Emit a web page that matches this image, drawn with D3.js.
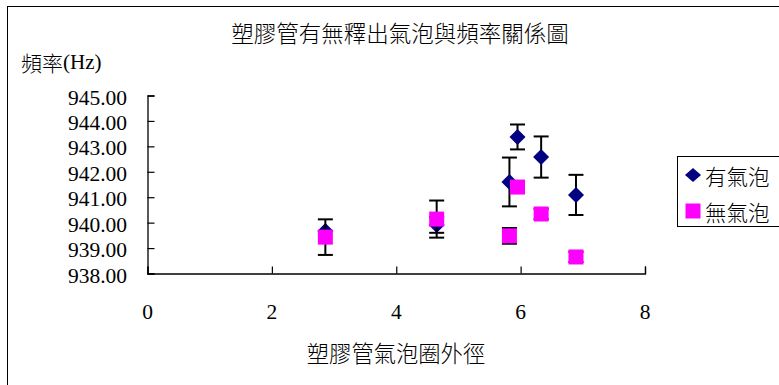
<!DOCTYPE html>
<html><head><meta charset="utf-8">
<script src="https://cdn.jsdelivr.net/npm/d3@7"></script>
<style>
html,body{margin:0;padding:0;background:#fff;}
</style></head>
<body><svg id="c" width="779" height="385"></svg>
<script>
const chartTitle = "塑膠管有無釋出氣泡與頻率關係圖";
const xTitle = "塑膠管氣泡圈外徑";
const yTitleCjk = "頻率";
const yTitleUnit = "(Hz)";
const seriesNames = ["有氣泡", "無氣泡"];
const xValues = [2.86, 4.65, 5.82, 5.95, 6.33, 6.89];
const withBubble = [939.67, 939.91, 941.60, 943.37, 942.58, 941.09];
const withBubbleErr = [0, 0.31, 0.96, 0.49, 0.81, 0.79];
const noBubble = [939.43, 940.14, 939.48, 941.40, 940.34, 938.65];
const noBubbleErr = [0.7, 0.73, 0.31, 0.2, 0.2, 0.2];
const xTicks = [0, 2, 4, 6, 8];
const yTicks = [938, 939, 940, 941, 942, 943, 944, 945];

const CJK = "'Noto Sans CJK TC', sans-serif";
const LATIN = "'Liberation Serif', serif";
const svg = d3.select("#c");
const x = d3.scaleLinear().domain([0, 8]).range([147.5, 645]);
const y = d3.scaleLinear().domain([938, 945]).range([273.5, 95.5]);

function cjk(sel) { return sel.style("font-family", CJK).style("font-weight", "300").attr("fill", "#000"); }
function lat(sel) { return sel.style("font-family", LATIN).style("font-weight", "400").attr("fill", "#000"); }

// outer border
svg.append("rect").attr("x", 7.5).attr("y", 6.5).attr("width", 800).attr("height", 400)
  .attr("fill", "none").attr("stroke", "#000").attr("stroke-width", 1);

cjk(svg.append("text")).attr("x", 400).attr("y", 32).attr("text-anchor", "middle")
  .attr("dominant-baseline", "central").style("font-size", "22.5px").text(chartTitle);
const yt = svg.append("text").attr("x", 21).attr("y", 62).attr("dominant-baseline", "central")
  .style("font-size", "21px").attr("fill", "#000");
cjk(yt.append("tspan")).text(yTitleCjk);
lat(yt.append("tspan")).text(yTitleUnit);
cjk(svg.append("text")).attr("x", 396).attr("y", 352).attr("text-anchor", "middle")
  .attr("dominant-baseline", "central").style("font-size", "22.3px").text(xTitle);

// axes
const yAxis = d3.axisRight(y).tickValues(yTicks).tickSize(7).tickFormat("");
const yg = svg.append("g").attr("transform", "translate(147.5,0)").call(yAxis);
const xAxis = d3.axisTop(x).tickValues(xTicks).tickSize(7).tickFormat("");
const xg = svg.append("g").attr("transform", "translate(0,273.5)").call(xAxis);
[yg, xg].forEach(g => {
  g.select(".domain").attr("stroke", "#000").attr("stroke-width", 1.3);
  g.selectAll(".tick line").attr("stroke", "#000").attr("stroke-width", 1.2);
});

lat(svg.append("g").selectAll("text").data(yTicks).join("text"))
  .attr("x", 127).attr("y", d => y(d) + 2).attr("text-anchor", "end")
  .attr("dominant-baseline", "central").style("font-size", "21.5px")
  .text(d3.format(".2f"));
lat(svg.append("g").selectAll("text").data(xTicks).join("text"))
  .attr("x", d => x(d)).attr("y", 312).attr("text-anchor", "middle")
  .attr("dominant-baseline", "central").style("font-size", "21.5px")
  .text(d => d);

function errBars(vals, errs) {
  const g = svg.append("g").attr("stroke", "#000").attr("stroke-width", 2);
  vals.forEach((v, i) => {
    const e = errs[i];
    if (!e) return;
    const cx = x(xValues[i]);
    g.append("line").attr("x1", cx).attr("x2", cx).attr("y1", y(v - e)).attr("y2", y(v + e));
    [v - e, v + e].forEach(t => {
      g.append("line").attr("x1", cx - 7.5).attr("x2", cx + 7.5).attr("y1", y(t)).attr("y2", y(t));
    });
  });
}
const diamond = "M0,-8L8,0L0,8L-8,0Z";
const square = "M-7.5,-7.5H7.5V7.5H-7.5Z";

errBars(withBubble, withBubbleErr);
svg.append("g").selectAll("path").data(withBubble).join("path")
  .attr("d", diamond).attr("fill", "#000080")
  .attr("transform", (d, i) => `translate(${x(xValues[i])},${y(d)})`);
errBars(noBubble, noBubbleErr);
svg.append("g").selectAll("path").data(noBubble).join("path")
  .attr("d", square).attr("fill", "#FF00FF")
  .attr("transform", (d, i) => `translate(${x(xValues[i])},${y(d)})`);

// legend
const lg = svg.append("g");
lg.append("rect").attr("x", 677.5).attr("y", 156.5).attr("width", 130).attr("height", 70)
  .attr("fill", "#fff").attr("stroke", "#000").attr("stroke-width", 1);
lg.append("path").attr("d", "M0,-7L8,0L0,7L-8,0Z").attr("fill", "#000080")
  .attr("transform", "translate(693,175)");
lg.append("path").attr("d", square).attr("fill", "#FF00FF")
  .attr("transform", "translate(693,211)");
cjk(lg.append("text")).attr("x", 705).attr("y", 175).attr("dominant-baseline", "central")
  .style("font-size", "21.5px").text(seriesNames[0]);
cjk(lg.append("text")).attr("x", 705).attr("y", 211).attr("dominant-baseline", "central")
  .style("font-size", "21.5px").text(seriesNames[1]);
</script></body></html>
